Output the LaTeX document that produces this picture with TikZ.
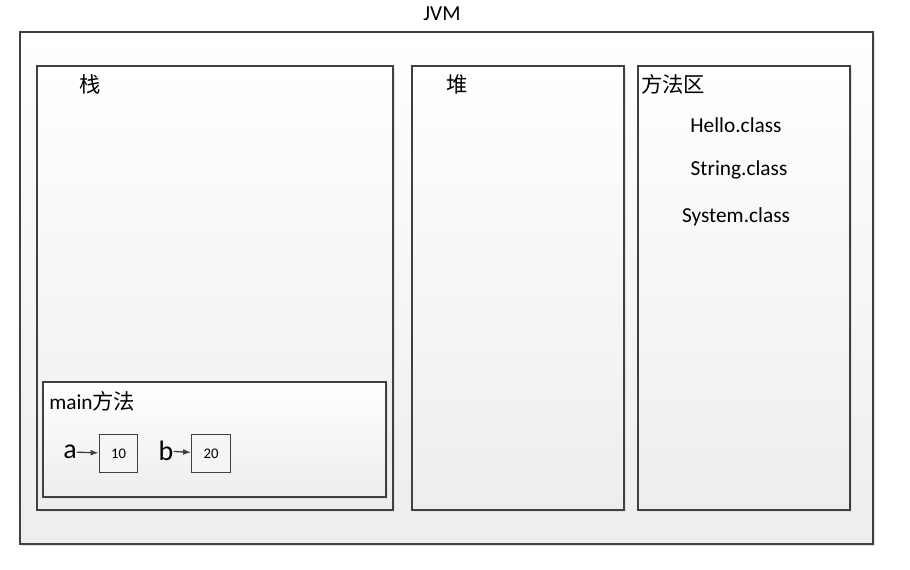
\documentclass[tikz,border=0pt]{standalone}
\usepackage{fontspec}
\setmainfont{Carlito}
\newfontfamily\cjk{Noto Sans CJK SC}
\usepackage{tikz}
\usetikzlibrary{shadows,arrows.meta}

\tikzset{
  area/.style={draw=black!75, line width=0.9pt, inner sep=0pt, outer sep=0pt,
    top color=white, bottom color=black!7,
    drop shadow={shadow xshift=1.5pt, shadow yshift=-1.5pt, fill=black!12, opacity=1}},
  cell/.style={draw=black!75, line width=0.8pt, fill=white!96!black, inner sep=0pt,
    minimum width=29pt, minimum height=29pt, font=\fontsize{11}{13}\selectfont},
  label/.style={inner sep=0pt, font=\fontsize{16}{18}\selectfont},
  var/.style={inner sep=0pt, font=\fontsize{21}{23}\selectfont},
  ptr/.style={-{Latex[length=6pt,width=4.5pt]}, draw=black!75, line width=1pt}
}

\begin{document}
\begin{tikzpicture}[x=0.75pt,y=-0.75pt]
                        \useasboundingbox (0,0) rectangle (910,570);
                        % Nodes
                        \node[area, minimum width=639.75pt, minimum height=384pt] (jvm) at (446.5,288) {};
                        \node[label] (jvmname) at (442,14) {JVM};

                        \node[area, minimum width=267pt, minimum height=333pt] (stack) at (215,288) {};
                        \node[label] (stackname) at (90,84) {\cjk 栈};
                        \node[area, minimum width=159pt, minimum height=333pt] (heap) at (518,288) {};
                        \node[label] (heapname) at (457,84) {\cjk 堆};
                        \node[area, minimum width=159pt, minimum height=333pt] (methods) at (744,288) {};
                        \node[label, anchor=west] (methodsname) at (641,84) {\cjk 方法区};

                        \node[label] (hello) at (736,125) {Hello.class};
                        \node[label] (string) at (739,170) {String.class};
                        \node[label] (system) at (736,217) {System.class};

                        \node[area, minimum width=257.25pt, minimum height=86.25pt] (main) at (214.5,439.5) {};
                        \node[label, anchor=west] (mainname) at (49,401) {main{\cjk 方法}};

                        \node[var] (a) at (70,452) {a};
                        \node[cell] (ten) at (118.5,453.5) {10};
                        \node[var] (b) at (166,451) {b};
                        \node[cell] (twenty) at (211,453.5) {20};

                        % Edges
                        \draw[ptr] (a) -- (ten);
                        \draw[ptr] (b) -- (twenty);
                    \end{tikzpicture}
\end{document}
